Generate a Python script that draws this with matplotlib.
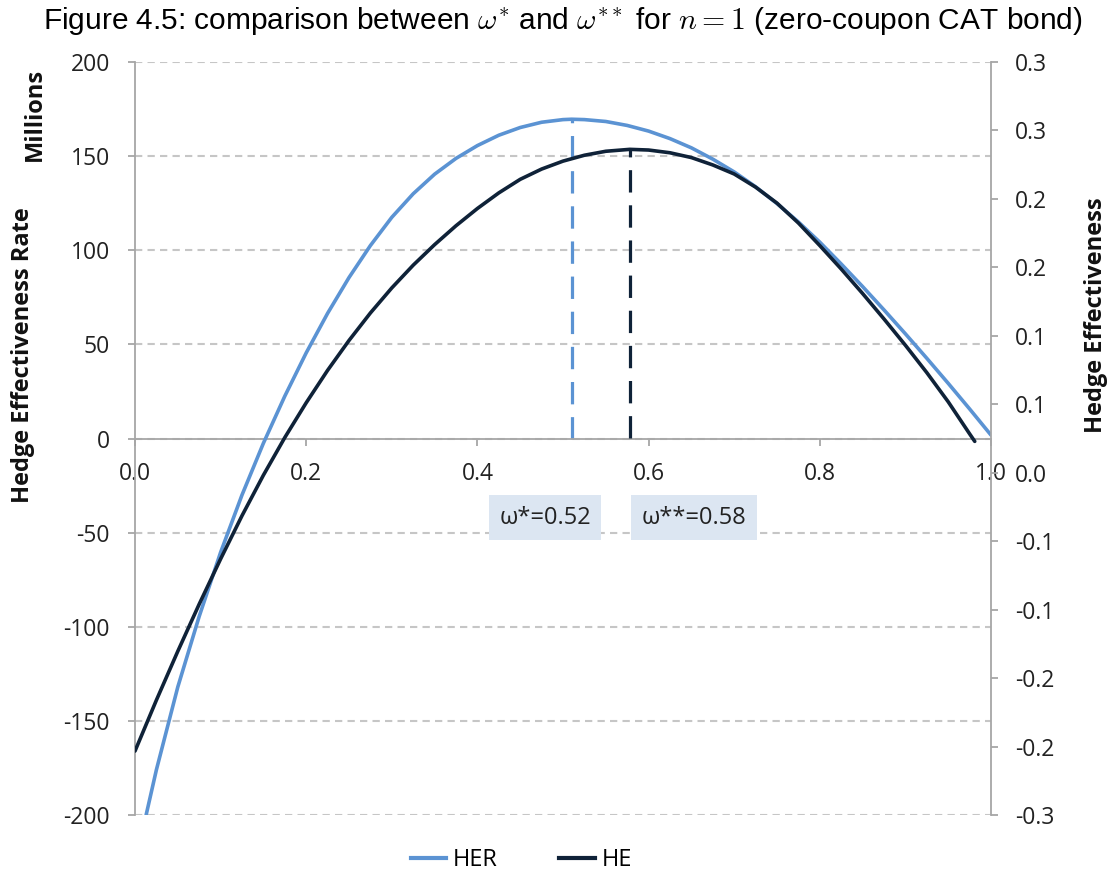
import numpy as np
import matplotlib
matplotlib.use("Agg")
import matplotlib.pyplot as plt
from matplotlib.lines import Line2D

# HER (left axis, millions)
her_x = [0.013, 0.025, 0.05, 0.075, 0.10, 0.125, 0.15, 0.175, 0.20, 0.225,
         0.25, 0.275, 0.30, 0.325, 0.35, 0.375, 0.40, 0.425, 0.45, 0.475,
         0.50, 0.51, 0.525, 0.55, 0.575, 0.60, 0.625, 0.65, 0.675, 0.70,
         0.725, 0.75, 0.775, 0.80, 0.825, 0.85, 0.875, 0.90, 0.925, 0.95,
         0.975, 1.0]
her_y = [-200, -176, -132, -94.5, -60.5, -30, -2.5, 22.5, 45.5, 66.5,
         85.5, 102.5, 117.5, 130, 140.4, 148.8, 155.6, 161.1, 165.2, 168.0,
         169.4, 169.6, 169.4, 168.4, 166.3, 163.3, 159.3, 154.4, 148.4, 141.6,
         133.7, 124.8, 115.0, 104.3, 92.7, 80.7, 68.3, 55.6, 42.6, 29.3,
         15.7, 1.8]

# HE (right axis)
he_x = [0.0, 0.025, 0.05, 0.075, 0.10, 0.125, 0.15, 0.175, 0.20, 0.225,
        0.25, 0.275, 0.30, 0.325, 0.35, 0.375, 0.40, 0.425, 0.45, 0.475,
        0.50, 0.525, 0.55, 0.578, 0.60, 0.625, 0.65, 0.675, 0.70, 0.725,
        0.75, 0.775, 0.80, 0.825, 0.85, 0.875, 0.90, 0.925, 0.95, 0.975,
        0.981]
he_y = [-0.2033, -0.1661, -0.1304, -0.0960, -0.0630, -0.0314, -0.0018, 0.0257, 0.0511, 0.0748,
        0.0966, 0.1167, 0.1350, 0.1516, 0.1666, 0.1804, 0.1930, 0.2044, 0.2143, 0.2218,
        0.2276, 0.2319, 0.2348, 0.2362, 0.2357, 0.2337, 0.2302, 0.2248, 0.2182, 0.2086,
        0.1969, 0.1824, 0.1659, 0.1488, 0.1309, 0.1123, 0.0931, 0.0731, 0.0518, 0.0284,
        0.0229]

x_ticks = [0.0, 0.2, 0.4, 0.6, 0.8, 1.0]
x_tick_labels = ["0.0", "0.2", "0.4", "0.6", "0.8", "1.0"]
left_ticks = [-200, -150, -100, -50, 0, 50, 100, 150, 200]
right_ticks = [-0.25, -0.20, -0.15, -0.10, -0.05, 0.0, 0.05, 0.10, 0.15, 0.20, 0.25, 0.30]
right_tick_labels = ["-0.3", "-0.2", "-0.2", "-0.1", "-0.1", "0.0",
                     "0.1", "0.1", "0.2", "0.2", "0.3", "0.3"]
omega_labels = ["\u03c9*=0.52", "\u03c9**=0.58"]

c_her = "#5b93d3"
c_he = "#0f2238"
c_axis = "#a6a6a6"
c_grid = "#c6c6c6"

plt.rcParams["font.family"] = ["Open Sans", "DejaVu Sans"]
plt.rcParams["mathtext.fontset"] = "cm"
plt.rcParams["axes.unicode_minus"] = False

fig = plt.figure(figsize=(11.12, 8.77), dpi=100)
ax = fig.add_axes([0.1214, 0.0707, 0.7698, 0.8586])
ax2 = ax.twinx()

ax.set_xlim(0, 1)
ax.set_ylim(-200, 200)
ax2.set_ylim(-0.25, 0.30)

# spines
for a in (ax, ax2):
    a.spines["top"].set_visible(False)
    for s in a.spines.values():
        s.set_color(c_axis)
        s.set_linewidth(1.3)
ax.spines["bottom"].set_position(("data", 0))
ax.spines["right"].set_visible(False)
ax2.spines["left"].set_visible(False)
ax2.spines["bottom"].set_visible(False)

ax.set_xticks(x_ticks)
ax.set_xticklabels(x_tick_labels)
ax.set_yticks(left_ticks)
ax2.set_yticks(right_ticks)
ax2.set_yticklabels(right_tick_labels)

tick_kw = dict(direction="out", length=5, width=1.3, color=c_axis,
               labelsize=16.5, labelcolor="#222222")
ax.tick_params(axis="x", pad=12, **tick_kw)
ax.tick_params(axis="y", pad=13, **tick_kw)
ax2.tick_params(axis="y", pad=12, **tick_kw)

ax.yaxis.grid(True, color=c_grid, linestyle=(0, (3.5, 2.5)), linewidth=1.5)
ax.set_axisbelow(True)

# curves
ax.plot(her_x, her_y, color=c_her, lw=2.6, solid_capstyle="round",
        solid_joinstyle="round", zorder=3)
ax2.plot(he_x, he_y, color=c_he, lw=2.6, solid_capstyle="round",
         solid_joinstyle="round", zorder=3)

# dashed markers at the maxima
i_her = int(np.argmax(her_y))
ax.plot([her_x[i_her]] * 2, [0, her_y[i_her]], color=c_her, lw=2.3,
        linestyle=(0, (7, 4)), zorder=2)
fig.canvas.draw()
y0_right = ax2.transData.inverted().transform(ax.transData.transform((0, 0)))[1]
i_he = int(np.argmax(he_y))
ax2.plot([he_x[i_he]] * 2, [y0_right, he_y[i_he]], color=c_he, lw=2.3,
         linestyle=(0, (7, 4)), zorder=2)

# label boxes
for xc, s in zip([0.479, 0.653], omega_labels):
    ax.text(xc, -42, s, ha="center", va="center", fontsize=17, color="#222222",
            bbox=dict(boxstyle="square,pad=0.45", fc="#dce6f2", ec="none"), zorder=4)

# axis titles
fig.text(0.021, 0.595, "Hedge Effectiveness Rate", rotation=90, ha="center",
         va="center", fontsize=17, fontweight="bold", color="#111111")
fig.text(0.031, 0.870, "Millions", rotation=90, ha="center", va="center",
         fontsize=17, fontweight="bold", color="#111111")
fig.text(0.986, 0.641, "Hedge Effectiveness", rotation=90, ha="center",
         va="center", fontsize=17, fontweight="bold", color="#111111")

fig.text(0.506, 0.976,
         r"Figure 4.5: comparison between $\omega^{*}$ and $\omega^{**}$ for $n = 1$ (zero-coupon CAT bond)",
         ha="center", va="center", fontsize=21.5, family="Liberation Sans")

handles = [Line2D([], [], color=c_her, lw=3), Line2D([], [], color=c_he, lw=3)]
fig.legend(handles, ["HER", "HE"], loc="center", bbox_to_anchor=(0.469, 0.019),
           ncol=2, frameon=False, fontsize=17, handlelength=1.5,
           handletextpad=0.3, columnspacing=2.6)

fig.savefig("out.png", dpi=100)
